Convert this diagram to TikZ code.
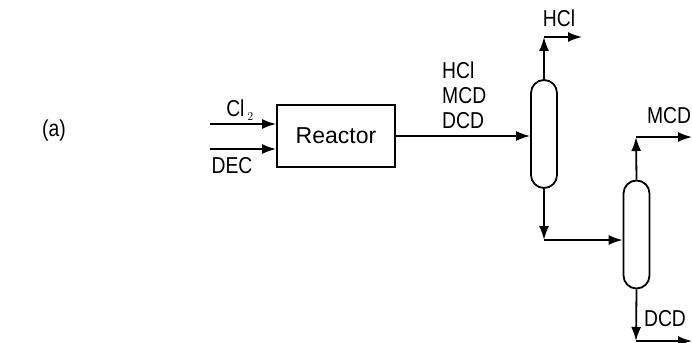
\documentclass[tikz,border=0pt]{standalone}
\usepackage{fontspec}
\newfontfamily\pfdfont{Liberation Sans}
\newfontfamily\pfdnarrow{Liberation Sans}[FakeStretch=0.84]
\usetikzlibrary{arrows.meta,positioning,calc}
\tikzset{
  pfdbox/.style={draw,line width=1.8pt,minimum width=118pt,minimum height=62pt,inner sep=0pt,font=\pfdfont\fontsize{23}{26}\selectfont},
  pfdcol/.style={draw,line width=1.8pt,rounded corners=13pt,minimum width=26pt,minimum height=108pt,inner sep=0pt},
  pfdflow/.style={-{Latex[length=14pt,width=10pt]},line width=1.8pt},
  pfdlabel/.style={font=\pfdnarrow\fontsize{23}{25}\selectfont,inner sep=0pt,align=left},
}
\begin{document}
\begin{tikzpicture}[x=1pt,y=-1pt]
\useasboundingbox (0,0) rectangle (692,342);

\node[pfdlabel] (tag) at (54,131) {(a)};

\node[pfdbox] (reactor) at (336,136) {Reactor};
\node[pfdcol] (col1) at (544,134) {};
\node[pfdcol] (col2) at (636.5,234.5) {};

% feeds
\coordinate (clin) at (210,124);
\coordinate (decin) at (210,149);
\draw[pfdflow] (clin) -- (clin -| reactor.west);
\draw[pfdflow] (decin) -- (decin -| reactor.west);
\node[pfdlabel] (cl) at (240,110) {Cl$_{\,\scriptscriptstyle 2}$};
\node[pfdlabel] (dec) at (232,166) {DEC};

% reactor to first column
\draw[pfdflow] (reactor.east) -- (reactor.east -| col1.west);
\node[pfdlabel,anchor=west] (mix) at (442,95) {HCl\\MCD\\DCD};

% first column
\coordinate (c1top) at (544,37);
\coordinate (hclout) at (582,37);
\coordinate (c1bot) at (544,240);
\draw[pfdflow] (col1.north) -- (c1top);
\draw[pfdflow] (c1top) -- (hclout);
\node[pfdlabel] (hcl) at (559,18) {HCl};
\draw[pfdflow] (col1.south) -- (c1bot);
\draw[pfdflow] (c1bot) -- (c1bot -| col2.west);

% second column
\coordinate (c2top) at (636,137);
\coordinate (mcdout) at (692,137);
\coordinate (c2bot) at (636,341);
\coordinate (dcdout) at (692,341);
\draw[pfdflow] (col2.north) -- (c2top);
\draw[pfdflow] (c2top) -- (mcdout);
\node[pfdlabel] (mcd) at (669,116) {MCD};
\draw[pfdflow] (col2.south) -- (c2bot);
\draw[pfdflow] (c2bot) -- (dcdout);
\node[pfdlabel] (dcd) at (665,319) {DCD};
\end{tikzpicture}
\end{document}
